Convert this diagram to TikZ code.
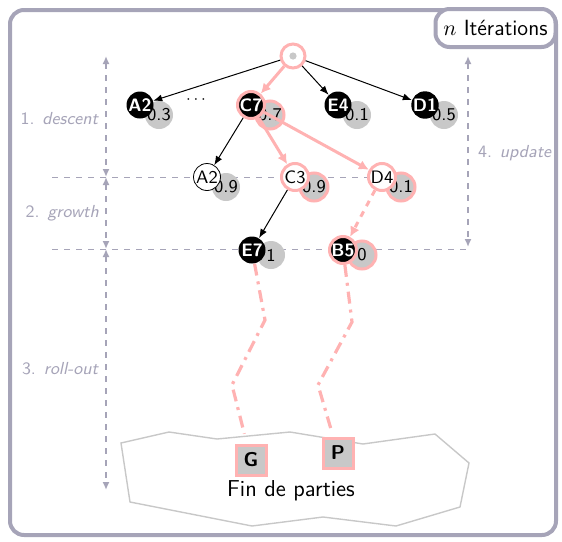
\documentclass[tikz,border=0pt]{standalone}
\usepackage{amssymb}
\usetikzlibrary{arrows.meta}
\usepackage{xcolor}
\definecolor{rose}{RGB}{255,178,178}
\definecolor{cadre}{RGB}{166,164,184}
\definecolor{pion}{RGB}{200,200,200}
\tikzset{
    etat/.style={circle, fill=black, text=white, inner sep=0pt, minimum size=13.5pt, font=\sffamily\bfseries\small},
    neuf/.style={circle, draw=black, fill=white, inner sep=0pt, minimum size=13.5pt, font=\sffamily\small},
    choisi/.style={draw=rose, line width=1.5pt},
    score/.style={circle, fill=pion, inner sep=0pt, minimum size=14pt, font=\sffamily\small},
    fleche/.style={-{Latex[length=4.5pt,width=3.5pt]}, line width=0.5pt},
    flechesel/.style={-{Latex[length=5pt,width=5pt]}, draw=rose, line width=1.5pt},
    rollout/.style={draw=rose, line width=1.6pt, dash pattern=on 6pt off 3pt on 1.5pt off 3pt},
    phase/.style={draw=cadre, dashed, line width=0.8pt, {Latex[length=4pt,width=3.5pt]}-{Latex[length=4pt,width=3.5pt]}},
    phasetxt/.style={text=cadre, font=\sffamily\fontsize{8.7}{10}\selectfont},
    ligne/.style={draw=cadre, dashed, line width=0.5pt},
    fin/.style={rectangle, fill=pion, draw=rose, line width=1.5pt, minimum size=15pt, inner sep=0pt, font=\sffamily\bfseries},
}

\begin{document}
\begin{tikzpicture}[x=0.5pt, y=-0.5pt]
    \useasboundingbox (0,0) rectangle (562,541);
    \def\ya{105};
    \def\yb{177};
    \def\yc{250};
    \def\dx{19};
    \def\dy{10};
    % cadre
    \draw[cadre, line width=2pt, rounded corners=7pt] (10,10) rectangle (556,535);
    \node[draw=cadre, fill=white, line width=2pt, rounded corners=7pt, minimum width=60pt, minimum height=19pt, font=\sffamily\fontsize{11}{13}\selectfont] at (495.5,28) (iter) {$n$ Itérations};
    % lignes des phases
    \coordinate (l1a) at (52,\yb);
    \coordinate (l1b) at (395,\yb);
    \coordinate (l2a) at (52,249);
    \coordinate (l2b) at (468,249);
    \draw[ligne] (l1a) -- (l1b);
    \draw[ligne] (l2a) -- (l2b);
    \coordinate (h0) at (106,56);
    \coordinate (h1) at (106,\yb);
    \coordinate (h2) at (106,249);
    \coordinate (h3) at (106,490);
    \coordinate (u0) at (468,56);
    \coordinate (u1) at (468,247);
    \draw[phase] (h0) -- (h1);
    \draw[phase] (h1) -- (h2);
    \draw[phase] (h2) -- (h3);
    \draw[phase] (u0) -- (u1);
    \node[phasetxt, anchor=east] at (106,119) (t1) {1. \textit{descent}};
    \node[phasetxt, anchor=east] at (106,213) (t2) {2. \textit{growth}};
    \node[phasetxt, anchor=east] at (106,369) (t3) {3. \textit{roll-out}};
    \node[phasetxt, anchor=west] at (471,153) (t4) {4. \textit{update}};
    % scores
    \node[score] at (140+\dx, \ya+\dy) (sA2) {0.3};
    \node[score, choisi] at (251+\dx, \ya+\dy) (sC7) {0.7};
    \node[score] at (338+\dx, \ya+\dy) (sE4) {0.1};
    \node[score] at (425+\dx, \ya+\dy) (sD1) {0.5};
    \node[score] at (207+\dx, \yb+\dy) (sA2b) {0.9};
    \node[score, choisi] at (295+\dx, \yb+\dy) (sC3) {0.9};
    \node[score, choisi] at (382+\dx, \yb+\dy) (sD4) {0.1};
    \node[score] at (252+\dx, \yc+5) (sE7) {1};
    \node[score, choisi] at (343+\dx, \yc+5) (sB5) {0};
    % arbre
    \node[circle, draw=rose, fill=white, line width=1.5pt, minimum size=12pt] at (293,56) (R) {};
    \fill[pion] (R.center) circle (1.8pt);
    \node[etat] at (140, \ya) (A2) {A2};
    \node[font=\sffamily\footnotesize] at (196, 100) (dots) {$\cdots$};
    \node[etat, choisi] at (251, \ya) (C7) {C7};
    \node[etat] at (338, \ya) (E4) {E4};
    \node[etat] at (425, \ya) (D1) {D1};
    \node[neuf] at (207, \yb) (A2b) {A2};
    \node[neuf, choisi] at (295, \yb) (C3) {C3};
    \node[neuf, choisi] at (382, \yb) (D4) {D4};
    \node[etat] at (252, \yc) (E7) {E7};
    \node[etat, choisi] at (343, \yc) (B5) {B5};
    \draw[fleche] (R) -- (A2);
    \draw[fleche] (R) -- (E4);
    \draw[fleche] (R) -- (D1);
    \draw[flechesel] (R) -- (C7);
    \draw[fleche] (C7) -- (A2b);
    \draw[flechesel] (C7) -- (C3);
    \draw[flechesel] (C7) -- (D4);
    \draw[fleche] (C3) -- (E7);
    \draw[flechesel, dashed] (D4) -- (B5);
    % fins de parties
    \draw[pion, line width=0.7pt] (121,443) -- (169,432) -- (217,439) -- (290,432) -- (363,444) -- (435,434) -- (469,463) -- (460,507) -- (396,526) -- (323,517) -- (252,526) -- (130,502) -- cycle;
    \node[font=\sffamily\fontsize{11.5}{14}\selectfont] at (291,491) (fins) {Fin de parties};
    \node[fin] at (251,460) (G) {G};
    \node[fin] at (338,453) (P) {P};
    \coordinate (g1) at (265,320);
    \coordinate (g2) at (232,385);
    \coordinate (p1) at (352,322);
    \coordinate (p2) at (318,385);
    \draw[rollout, shorten >=5pt] (E7) -- (g1) -- (g2) -- (G);
    \draw[rollout, shorten >=2pt] (B5) -- (p1) -- (p2) -- (P);
\end{tikzpicture}
\end{document}
